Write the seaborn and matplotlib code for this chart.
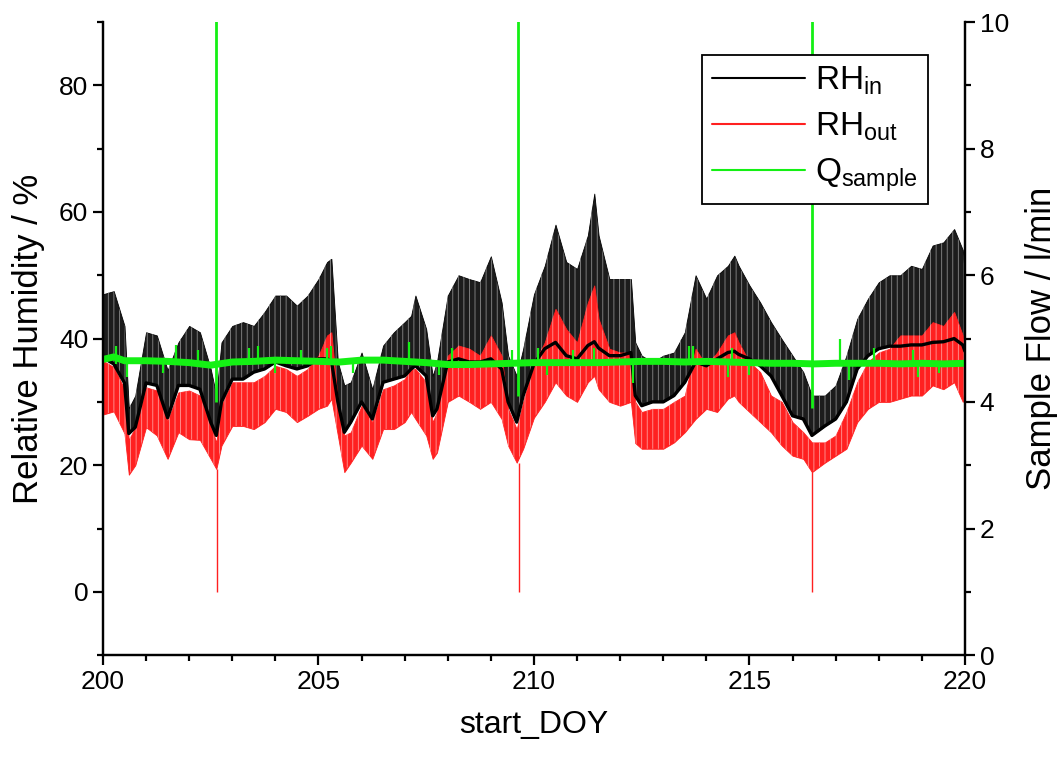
import matplotlib
matplotlib.use("Agg")
import matplotlib.pyplot as plt
import seaborn as sns
from matplotlib.lines import Line2D
from matplotlib.ticker import MultipleLocator

# ---- envelope readings of the humidity records (day of year) ----
days = [200.0, 200.25, 200.5, 200.6, 200.75, 201.0, 201.25, 201.5, 201.75, 202.0,
        202.25, 202.5, 202.63, 202.75, 203.0, 203.25, 203.5, 203.75, 204.0, 204.25,
        204.5, 204.75, 205.0, 205.2, 205.3, 205.45, 205.6, 205.75, 206.0, 206.25,
        206.5, 206.75, 207.0, 207.15, 207.25, 207.5, 207.65, 207.75, 208.0, 208.25,
        208.5, 208.75, 209.0, 209.25, 209.4, 209.6, 209.75, 210.0, 210.25, 210.5,
        210.75, 211.0, 211.25, 211.4, 211.5, 211.75, 212.0, 212.25, 212.35, 212.5,
        212.75, 213.0, 213.25, 213.5, 213.75, 214.0, 214.25, 214.5, 214.65, 214.75,
        215.0, 215.25, 215.5, 215.75, 216.0, 216.25, 216.45, 216.75, 217.0, 217.25,
        217.5, 217.75, 218.0, 218.25, 218.5, 218.75, 219.0, 219.25, 219.5, 219.75,
        219.95, 220.0]

rh_in_high = [47, 47.5, 42, 29, 31, 41, 40.5, 35, 39.4, 42,
              41, 35.2, 31, 39.4, 42, 42.6, 42, 44.2, 46.8, 46.8,
              45.2, 46.8, 49.4, 52.1, 52.6, 36.3, 32.6, 33.1, 37.8, 32,
              38.9, 41, 42.6, 43.6, 46.8, 41.5, 34.1, 36.3, 46.8, 50,
              49.4, 48.9, 53, 45.7, 37.3, 34.1, 38.4, 47, 51.5, 58,
              52.1, 51, 56.3, 62.9, 56.3, 49.4, 49.4, 49.4, 39.4, 37.3,
              36.3, 37.3, 37.8, 41, 50, 46.3, 50, 51.5, 53.1, 51.5,
              48.4, 45.7, 42.6, 39.9, 37.3, 34.7, 31, 31, 32.6, 37.3,
              43.1, 46.3, 48.9, 50, 50, 51.5, 51, 54.7, 55.2, 57.3,
              54, 50]

rh_in_low = [37, 36, 33, 25, 26, 33, 32.6, 27.5, 32.6, 32.6,
             32, 26.8, 24.7, 30, 33.6, 33.6, 34.7, 35.2, 36.3, 35.7,
             35.2, 35.7, 36.8, 36.8, 36.5, 30, 25.2, 26.8, 30, 27.3,
             33.1, 33.6, 34.1, 35.2, 35.7, 34.1, 27.8, 28.9, 36.3, 36.8,
             36.3, 36.3, 36.8, 35.2, 30, 26.8, 31, 36, 38.4, 39.4,
             37.3, 36.8, 38.9, 39.5, 38.5, 37.3, 37.3, 37.8, 31, 29.4,
             30, 30, 31, 33.1, 36.3, 35.7, 36.8, 37.8, 38, 37.5,
             36.8, 35.7, 34.1, 31, 27.8, 27.3, 24.7, 26.2, 27.3, 30,
             35.2, 37.3, 38.4, 38.8, 38.8, 39, 39, 39.4, 39.5, 40,
             39, 38]

rh_out_high = [36.5, 35.5, 32, 24, 26, 32.3, 31.8, 27, 31.5, 31.8,
               31, 26.2, 23.6, 29.5, 33.1, 33.1, 33.1, 34.1, 35.7, 35.2,
               34.1, 35.2, 37.3, 40.5, 41, 30, 24.7, 25.2, 29.4, 26.8,
               32, 32.6, 33.6, 35.2, 35.2, 33.1, 26.8, 28.4, 37.3, 38.9,
               38.4, 37.3, 40.5, 37.3, 28.9, 25.7, 30, 36, 39.4, 44.7,
               41.5, 39.4, 45.7, 48.4, 43.1, 38.4, 37.8, 37.8, 30, 28.4,
               28.9, 28.9, 30, 31, 38.4, 35.7, 37.8, 40.5, 41, 39.4,
               36.3, 34.7, 31, 30, 26.8, 25.2, 23.6, 23.6, 24.7, 28.4,
               33.1, 36.3, 37.8, 38.4, 40.5, 40.5, 40.5, 42.6, 42, 44.2,
               40.5, 38]

rh_out_low = [28, 28.5, 25, 18.5, 20, 26, 24.7, 21, 25.2, 24.1,
              24, 21, 19.4, 23.1, 26.2, 26.2, 25.7, 26.8, 28.9, 28.4,
              26.8, 27.8, 28.9, 29.4, 30.5, 24.7, 18.9, 20.4, 23.1, 21,
              25.7, 25.7, 26.8, 28.4, 27.3, 24.7, 21, 22, 30, 31,
              30, 28.9, 30, 27.3, 23.1, 20.4, 22.6, 27.5, 30, 33.1,
              31, 30, 33.1, 34.1, 32, 30, 29.4, 30, 23.5, 22.6,
              22.6, 22.6, 23.6, 25.2, 27.3, 28.9, 28.4, 30.5, 31, 30,
              28.4, 26.8, 25.2, 23.1, 21.5, 21, 18.9, 20.4, 21.5, 22.6,
              26.8, 28.9, 30, 30, 30.5, 31, 31, 32.6, 32, 33.1,
              30, 32]

# short drop-outs of RH_out to zero
dip_days = [202.65, 209.66, 216.45]
dip_top = [19.4, 20.4, 18.9]
dip_bottom = [0, 0, 0]

# ---- sample flow (l/min) ----
q_days = [200.0, 200.25, 200.5, 201.0, 201.5, 202.0, 202.5, 203.0, 203.5, 204.0,
          204.5, 205.0, 205.5, 206.0, 206.5, 207.0, 207.5, 208.0, 208.5, 209.0,
          209.5, 210.0, 210.5, 211.0, 211.5, 212.0, 212.5, 213.0, 213.5, 214.0,
          214.5, 215.0, 215.5, 216.0, 216.5, 217.0, 217.5, 218.0, 218.5, 219.0,
          219.5, 220.0]
q_flow = [4.67, 4.71, 4.65, 4.65, 4.64, 4.62, 4.58, 4.63, 4.64, 4.66,
          4.65, 4.64, 4.63, 4.66, 4.66, 4.64, 4.62, 4.59, 4.59, 4.60,
          4.61, 4.62, 4.62, 4.62, 4.62, 4.63, 4.64, 4.64, 4.63, 4.64,
          4.63, 4.62, 4.61, 4.61, 4.60, 4.61, 4.61, 4.61, 4.60, 4.61,
          4.60, 4.61]

# brief excursions of the flow signal
blip_days = [200.3, 200.55, 201.4, 201.7, 202.2, 203.4, 203.6, 204.0, 204.6, 205.2,
             205.3, 205.8, 207.1, 207.8, 208.1, 209.5, 210.1, 210.3, 210.9, 211.4,
             212.3, 213.6, 213.7, 214.5, 214.6, 215.0, 217.1, 217.3, 217.9, 218.8,
             218.9, 219.4]
blip_lo = [4.6, 4.40, 4.45, 4.6, 4.6, 4.6, 4.6, 4.45, 4.6, 4.6,
           4.6, 4.45, 4.6, 4.42, 4.6, 4.6, 4.6, 4.42, 4.6, 4.6,
           4.30, 4.6, 4.6, 4.40, 4.6, 4.42, 4.6, 4.35, 4.6, 4.6,
           4.40, 4.45]
blip_hi = [4.88, 4.65, 4.65, 4.90, 4.82, 4.85, 4.88, 4.65, 4.82, 4.85,
           4.88, 4.65, 4.95, 4.65, 4.85, 4.82, 4.85, 4.65, 4.82, 4.85,
           4.65, 4.88, 4.88, 4.65, 4.85, 4.65, 5.00, 4.65, 4.85, 4.82,
           4.65, 4.65]

# flow surges that run off the top of the scale
surge_days = [202.63, 209.64, 216.44]
surge_lo = [4.0, 4.1, 3.9]
surge_hi = [10.5, 10.5, 10.5]

GREEN = "#14f014"
RED = "#ff2020"

sns.set_theme(style="ticks")
plt.rcParams["font.family"] = ["Liberation Sans", "DejaVu Sans"]
plt.rcParams["mathtext.fontset"] = "custom"
plt.rcParams["mathtext.rm"] = "Liberation Sans"
plt.rcParams["mathtext.it"] = "Liberation Sans"
plt.rcParams["text.color"] = "black"
plt.rcParams["axes.labelcolor"] = "black"
plt.rcParams["xtick.color"] = "black"
plt.rcParams["ytick.color"] = "black"
plt.rcParams["hatch.linewidth"] = 0.6

fig = plt.figure(figsize=(10.57, 7.6), dpi=100)
ax = fig.add_axes([0.0974, 0.138, 0.8155, 0.833])

# RH_in band with fine vertical striping
ax.fill_between(days, rh_in_low, rh_in_high, color="#1c1c1c", lw=0.6, edgecolor="black")
ax.fill_between(days, rh_in_low, rh_in_high, facecolor="none", hatch="|||",
                edgecolor="#8a8a8a", lw=0)
sns.lineplot(x=days, y=rh_in_low, ax=ax, color="black", lw=2.4)
# RH_out band
ax.fill_between(days, rh_out_low, rh_out_high, color=RED, lw=0.6, edgecolor=RED)
ax.fill_between(days, rh_out_low, rh_out_high, facecolor="none", hatch="|||",
                edgecolor="#ff9a9a", lw=0)
ax.vlines(dip_days, dip_bottom, dip_top, color=RED, lw=1.0)

ax.set_xlim(200, 220)
ax.set_ylim(-10, 90)
ax.xaxis.set_major_locator(MultipleLocator(5))
ax.xaxis.set_minor_locator(MultipleLocator(1))
ax.yaxis.set_major_locator(MultipleLocator(20))
ax.yaxis.set_minor_locator(MultipleLocator(10))

ax2 = ax.twinx()
sns.lineplot(x=q_days, y=q_flow, ax=ax2, color=GREEN, lw=5)
ax2.vlines(blip_days, blip_lo, blip_hi, color=GREEN, lw=1.6)
ax2.vlines(surge_days, surge_lo, surge_hi, color=GREEN, lw=2.0)
ax2.set_ylim(0, 10)
ax2.yaxis.set_major_locator(MultipleLocator(2))
ax2.yaxis.set_minor_locator(MultipleLocator(1))

for a in (ax, ax2):
    a.spines["top"].set_visible(False)
    for s in ("left", "right", "bottom"):
        a.spines[s].set_linewidth(1.6)
        a.spines[s].set_color("black")
    a.tick_params(which="major", direction="out", length=7, width=1.6,
                  labelsize=19, colors="black")
    a.tick_params(which="minor", direction="out", length=4, width=1.6)
ax.tick_params(axis="y", which="both", right=False)
ax2.tick_params(axis="y", which="both", left=False)

ax.set_xlabel("start_DOY", fontsize=23, labelpad=12)
ax.set_ylabel("Relative Humidity / %", fontsize=25, labelpad=10)
ax2.set_ylabel("Sample Flow / l/min", fontsize=25, labelpad=12)

handles = [Line2D([], [], color="black", lw=1.5),
           Line2D([], [], color=RED, lw=1.5),
           Line2D([], [], color=GREEN, lw=1.5)]
labels = [r"RH$_\mathregular{in}$", r"RH$_\mathregular{out}$", r"Q$_\mathregular{sample}$"]
leg = ax2.legend(handles, labels, loc="upper right", bbox_to_anchor=(0.957, 0.948),
                 fontsize=24, frameon=True, fancybox=False, framealpha=1,
                 handlelength=2.8, handletextpad=0.3, labelspacing=0.4,
                 borderpad=0.3, borderaxespad=0)
leg.get_frame().set_edgecolor("black")
leg.get_frame().set_linewidth(1.3)

fig.savefig("out.png", dpi=100)
